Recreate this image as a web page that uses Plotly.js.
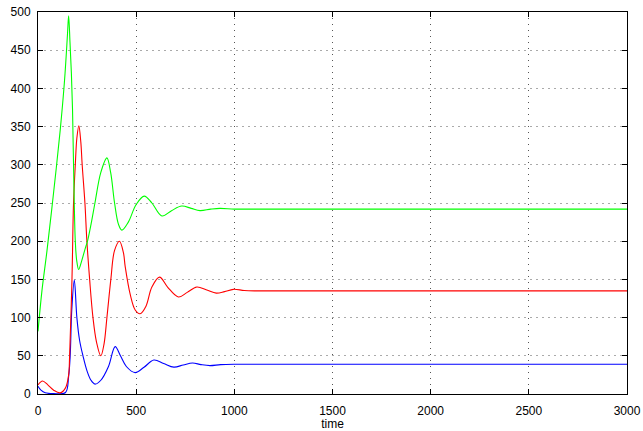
<!DOCTYPE html>
<html>
<head>
<meta charset="utf-8">
<script src="https://cdn.plot.ly/plotly-3.0.1.min.js"></script>
<style>html,body{margin:0;padding:0;background:#fff;}#chart{width:643px;height:431px;}</style>
</head>
<body>
<div id="chart"></div>
<script>
// Green series
const greenX = [0, 20, 46, 80, 113, 135, 150, 156, 163, 170, 176, 181, 190, 197, 207, 220, 240, 252, 270, 290, 320, 351, 370, 390, 410, 427, 460, 500, 541, 580, 631, 680, 732, 780, 825, 880, 927, 1000, 1100, 3000];
const greenY = [82, 135, 188, 265, 345, 410, 470, 495, 460, 420, 371, 300, 200, 175, 163, 172, 190, 200, 222, 250, 290, 309, 290, 250, 222, 214.5, 225, 248, 259, 250, 233, 240, 246, 243, 240, 242, 243, 242, 242, 242];
// Red series
const redX = [0, 23, 50, 80, 113, 140, 156, 161, 173, 181, 190, 198, 208, 218, 225, 239, 249, 263, 280, 298, 320, 336, 351, 371, 390, 415, 435, 444, 470, 495, 520, 550, 580, 619, 660, 715, 760, 809, 860, 908, 950, 995, 1050, 1107, 3000];
const redY = [12, 17, 12, 5, 1.5, 8, 25, 50, 150, 250, 300, 335, 351, 330, 300, 250, 200, 150, 100, 68, 50, 65, 100, 150, 188, 200, 185, 167, 130, 110, 105, 115, 140, 153, 140, 127, 133, 140, 136, 132, 134, 137, 135.5, 135, 135];
// Blue series
const blueX = [0, 15, 37, 80, 140, 156, 164, 172, 185, 198, 212, 229, 250, 270, 291, 320, 359, 393, 420, 450, 495, 540, 590, 640, 692, 740, 787, 830, 876, 930, 1000, 3000];
const blueY = [10, 5, 1.5, 0.5, 2, 23, 50, 110, 149, 100, 70, 50, 30, 18, 13, 18, 36, 62, 50, 36, 28, 35, 44.5, 40, 35.2, 38, 40.6, 38.5, 37.2, 38.5, 39, 39];

const xTicks = [0, 500, 1000, 1500, 2000, 2500, 3000];
const yTicks = [0, 50, 100, 150, 200, 250, 300, 350, 400, 450, 500];

const mk = (x, y, c) => ({x: x, y: y, type: 'scatter', mode: 'lines',
  line: {color: c, width: 1.1, shape: 'spline', smoothing: 1}, hoverinfo: 'none', showlegend: false});

const data = [mk(blueX, blueY, '#0000ff'), mk(redX, redY, '#ff0000'), mk(greenX, greenY, '#00ff00')];

const fnt = {family: 'Liberation Sans, Arial, sans-serif', size: 12, color: '#000'};
const axisCommon = {
  showline: true, linecolor: '#000', linewidth: 1, mirror: 'ticks',
  ticks: 'inside', ticklen: 5, tickcolor: '#000', tickwidth: 1,
  showgrid: true, gridwidth: 1,
  zeroline: false, tickfont: fnt
};

const layout = {
  width: 643, height: 431,
  margin: {l: 38, r: 15.5, t: 11.5, b: 36.5},
  paper_bgcolor: '#fff', plot_bgcolor: '#fff',
  xaxis: Object.assign({}, axisCommon, {range: [0, 3000], tickvals: xTicks, ticktext: xTicks.map(String),
    gridcolor: '#555', griddash: '1px,5px', ticklabelstandoff: 6,
    title: {text: 'time', font: fnt, standoff: 2}}),
  yaxis: Object.assign({}, axisCommon, {range: [0, 500], tickvals: yTicks, ticktext: yTicks.map(String),
    gridcolor: '#aaa', griddash: '2px,4px', ticklabelstandoff: 4})
};

Plotly.newPlot('chart', data, layout, {displayModeBar: false, staticPlot: true});
</script>
</body>
</html>
